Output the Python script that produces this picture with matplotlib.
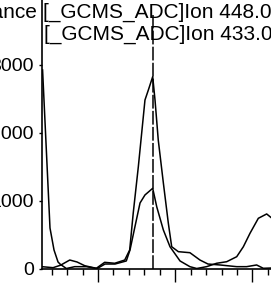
import matplotlib
matplotlib.use("Agg")
import matplotlib.pyplot as plt
from matplotlib.ticker import MultipleLocator, NullFormatter

plt.rcParams['font.family'] = ['Liberation Sans', 'DejaVu Sans']

# Ion 448.0 trace (retention time, abundance)
t_448 = [9.641, 9.689, 9.715, 9.741, 9.760, 9.817, 9.864, 9.914, 9.989, 10.043,
         10.108, 10.173, 10.205, 10.228, 10.261, 10.304, 10.326, 10.354, 10.369,
         10.390, 10.423, 10.455, 10.477, 10.520, 10.595, 10.660, 10.712, 10.790,
         10.898, 10.962, 11.027, 11.070, 11.120]
y_448 = [2926, 597, 273, 96, 52, 125, 96, 41, 3, 91,
         77, 125, 273, 818, 1501, 2484, 2632, 2828, 2484,
         1894, 1261, 671, 321, 248, 233, 125, 66, 52,
         27, 27, 52, 3, 7]

# Ion 433.0 trace
t_433 = [9.636, 9.709, 9.762, 9.795, 9.849, 9.924, 9.995, 10.045, 10.110, 10.183,
         10.207, 10.239, 10.272, 10.304, 10.354, 10.380, 10.423, 10.466, 10.531,
         10.595, 10.639, 10.703, 10.768, 10.833, 10.898, 10.941, 10.984, 11.038,
         11.092, 11.120]
y_433 = [27, 12, 52, 0, 27, 27, 0, 66, 66, 111,
         273, 616, 966, 1084, 1182, 911, 568, 321, 111,
         27, 0, 27, 77, 100, 174, 321, 519, 740,
         804, 752]

marker_t = 10.356
yticks = [0, 1000, 2000, 3000]
label_1a = "Abundance"
label_1b = "[_GCMS_ADC]Ion 448.0"
label_2 = "[_GCMS_ADC]Ion 433.0"

W, H = 271, 286
fig = plt.figure(figsize=(W / 100, H / 100), dpi=100)
ax = fig.add_axes([41.5 / W, 17.5 / H, 1 - 41.5 / W, 1 - 17.5 / H])

ax.plot(t_448, y_448, color='black', lw=1.1)
ax.plot(t_433, y_433, color='black', lw=1.1)
ax.plot([marker_t, marker_t], [0, 3730], color='black', lw=1.1,
        linestyle=(0, (9, 1.5)))

ax.set_xlim(9.634, 11.12)
ax.set_ylim(0, 3958)

for s in ['top', 'right']:
    ax.spines[s].set_visible(False)
for s in ['left', 'bottom']:
    ax.spines[s].set_linewidth(1.2)
    ax.spines[s].set_color('black')

ax.set_yticks(yticks)
ax.set_yticklabels([str(v) for v in yticks], fontsize=14)
ax.tick_params(axis='y', direction='out', length=2.5, width=1, pad=3)

ax.xaxis.set_major_locator(MultipleLocator(0.5))
ax.xaxis.set_minor_locator(MultipleLocator(0.1))
ax.xaxis.set_major_formatter(NullFormatter())
ax.tick_params(axis='x', which='major', direction='out', length=9.4, width=1)
ax.tick_params(axis='x', which='minor', direction='out', length=4.3, width=1)

fig.text(38 / W, 1 - 18 / H, label_1a, ha='right', va='baseline', fontsize=15)
fig.text(43 / W, 1 - 18 / H, label_1b, ha='left', va='baseline', fontsize=15)
fig.text(44 / W, 1 - 40 / H, label_2, ha='left', va='baseline', fontsize=15)

fig.savefig('out.png', dpi=100)
